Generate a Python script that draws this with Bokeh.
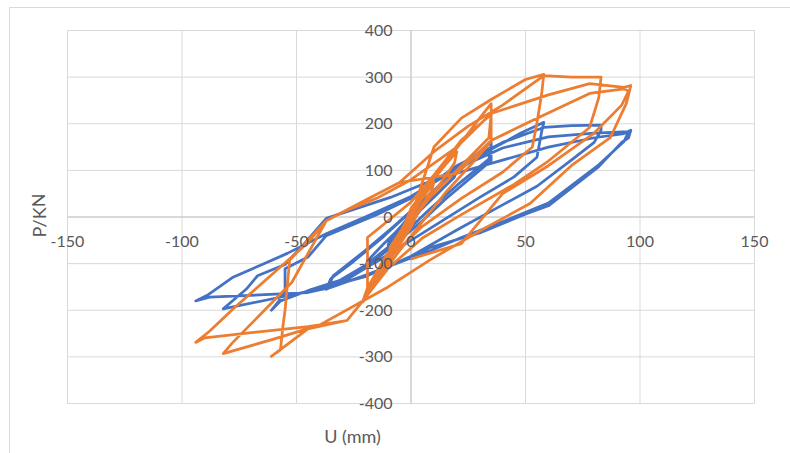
from bokeh.plotting import figure
from bokeh.models import ColumnDataSource
from bokeh.core.properties import value
from bokeh.embed import file_html
from bokeh.resources import INLINE

# ---------------- data ----------------
x_ticks = [-150, -100, -50, 0, 50, 100, 150]
y_ticks = [-400, -300, -200, -100, 0, 100, 200, 300, 400]
x_title = "U (mm)"
y_title = "P/KN"

blue_u = [0,
          5, 10, 9, 4, 0, -5, -10, -9, -4, 0,
          8, 15, 20, 19, 12, 4, 0, -8, -15, -20, -19, -12, -4, 0,
          10, 22, 30, 35, 35, 28, 15, 5, -5, -20, -30, -37, -35, -25, -12, 0,
          12, 25, 35, 34, 22, 8, -5, -20, -36, -34, -20, -8, 5,
          20, 35, 48, 55, 58, 57, 55, 45, 30, 15, 0, -15, -30, -45, -57, -61, -58, -55, -55, -45, -37, -15, 0,
          20, 40, 58, 70, 83, 83, 80, 70, 55, 40, 20, 0, -20, -40, -55, -82, -78, -72, -67, -55, -48, -37, -9, 10,
          35, 60, 80, 93, 96, 95, 92, 82, 60, 51, 30, 8, 0, -20, -35, -45, -70, -88, -94, -89, -78, -66, -54, -37, -20, 0,
          20, 40, 60, 80, 95, 93, 82, 60, 40, 22, 0]
blue_p = [0,
          28, 55, 42, 15, -5, -32, -60, -45, -18, 5,
          48, 80, 100, 86, 52, 14, -12, -55, -90, -110, -94, -58, -20, 8,
          55, 108, 140, 160, 121, 92, 38, -8, -50, -110, -140, -155, -132, -95, -42, 12,
          65, 118, 150, 124, 76, 16, -45, -104, -150, -126, -72, -22, 35,
          100, 145, 180, 196, 203, 182, 128, 86, 42, -4, -50, -96, -134, -158, -180, -200, -182, -158, -111, -86, -40, 5, 40,
          110, 160, 192, 196, 197, 186, 160, 122, 66, 26, -28, -84, -128, -154, -170, -197, -180, -155, -126, -102, -65, -3, 42, 80,
          115, 150, 170, 179, 186, 170, 160, 108, 24, 8, -34, -66, -88, -125, -151, -162, -168, -172, -180, -168, -130, -104, -78, -36, 0, 44,
          104, 148, 172, 180, 183, 162, 112, 30, -10, -44, -90]

orange_u = [0,
            5, 10, 9, 4, 0, -5, -10, -9, -4, 0,
            8, 15, 20, 19, 12, 4, 0, -8, -15, -21, -19, -12, -4, 0,
            10, 22, 30, 35, 35, 28, 15, 5, -5, -15, -21, -19, -19, -10, 0,
            10, 22, 35, 34, 22, 8, -5, -15, -21, -16, -8, 0,
            10, 22, 35, 50, 58, 57, 55, 53, 40, 22, 5, -10, -21, -28, -45, -61, -57, -56, -55, -53, -37, -20, -5,
            10, 25, 40, 58, 70, 83, 82, 78, 60, 45, 22, 5, -10, -21, -40, -60, -82, -78, -72, -64, -52, -37, -30, -15, 0,
            20, 35, 60, 78, 93, 96, 95, 94, 87, 70, 52, 30, 8, -10, -21, -28, -45, -90, -94, -88, -77, -60, -45, -37, -20, -5,
            20, 35, 53, 78, 93, 95, 92, 80, 60, 40, 22, 0]
orange_p = [0,
            40, 75, 56, 20, -10, -50, -85, -64, -26, 10,
            70, 112, 140, 116, 66, 20, -22, -82, -136, -180, -152, -92, -32, 18,
            86, 160, 212, 243, 162, 122, 52, -10, -72, -140, -180, -172, -44, -8, 32,
            90, 165, 220, 170, 110, 40, -40, -120, -182, -130, -70, 0,
            150, 212, 252, 295, 306, 262, 202, 150, 96, 40, -20, -90, -180, -222, -240, -299, -285, -237, -200, -93, -8, 36, 74,
            140, 195, 240, 303, 300, 300, 256, 192, 120, 70, 5, -45, -110, -180, -232, -262, -293, -270, -240, -200, -140, -8, 10, 40, 80,
            150, 222, 262, 286, 278, 282, 262, 243, 170, 110, 29, -30, -93, -150, -180, -222, -235, -259, -269, -245, -194, -120, -55, -8, 36, 74,
            93, 164, 207, 265, 275, 270, 240, 180, 110, 50, -57, -90]

# ---------------- layout (pixel mapping of the plot area) ----------------
W, H = 790, 453
X0PX, XS = 410.5, 687 / 300.0      # px of x=0, px per unit
Y0PX, YS = 216.5, 373 / 800.0      # px of y=0, px per unit


def ux(px):
    return (px - X0PX) / XS


def uy(py):
    return (Y0PX - py) / YS


p = figure(width=W, height=H, x_range=(ux(0), ux(W)), y_range=(uy(H), uy(0)),
           output_backend="svg", toolbar_location=None,
           min_border=0, min_border_left=0, min_border_right=0,
           min_border_top=0, min_border_bottom=0)
p.xaxis.visible = False
p.yaxis.visible = False
p.xgrid.visible = False
p.ygrid.visible = False
p.outline_line_color = None
p.background_fill_color = "white"
p.border_fill_color = "white"

xmin, xmax = x_ticks[0], x_ticks[-1]
ymin, ymax = y_ticks[0], y_ticks[-1]

# outer chart border (left and top visible)
p.line([ux(9), ux(9), ux(W + 5)], [uy(H + 5), uy(7), uy(7)], line_color="#d9d9d9", line_width=1)

# gridlines
p.segment(x0=x_ticks, y0=[ymin] * len(x_ticks), x1=x_ticks, y1=[ymax] * len(x_ticks),
          line_color="#d9d9d9", line_width=1)
p.segment(x0=[xmin] * len(y_ticks), y0=y_ticks, x1=[xmax] * len(y_ticks), y1=y_ticks,
          line_color="#d9d9d9", line_width=1)
# zero axes
p.segment(x0=[0, xmin], y0=[ymin, 0], x1=[0, xmax], y1=[ymax, 0],
          line_color="#c6c6c6", line_width=1)

p.line(blue_u, blue_p, line_color="#4472C4", line_width=2.75, line_join="round")
p.line(orange_u, orange_p, line_color="#ED7D31", line_width=2.75, line_join="round")

font = value("Lato")
p.text(x=x_ticks, y=[0] * len(x_ticks), text=[str(v) for v in x_ticks],
       text_align="center", text_baseline="middle", y_offset=24.5,
       text_font=font, text_font_size="16px", text_color="#595959")
p.text(x=[0] * len(y_ticks), y=y_ticks, text=[str(v) for v in y_ticks],
       text_align="right", text_baseline="middle", x_offset=-18.5,
       text_font=font, text_font_size="16px", text_color="#595959")

p.text(x=[ux(352)], y=[uy(435)], text=[x_title], text_align="center", text_baseline="middle",
       text_font=font, text_font_size="18px", text_color="#595959")
p.text(x=[ux(38)], y=[uy(215)], text=[y_title], text_align="center", text_baseline="middle",
       angle=1.5708, text_font=font, text_font_size="18px", text_color="#595959")

open("out.html", "w").write(file_html(p, INLINE))
